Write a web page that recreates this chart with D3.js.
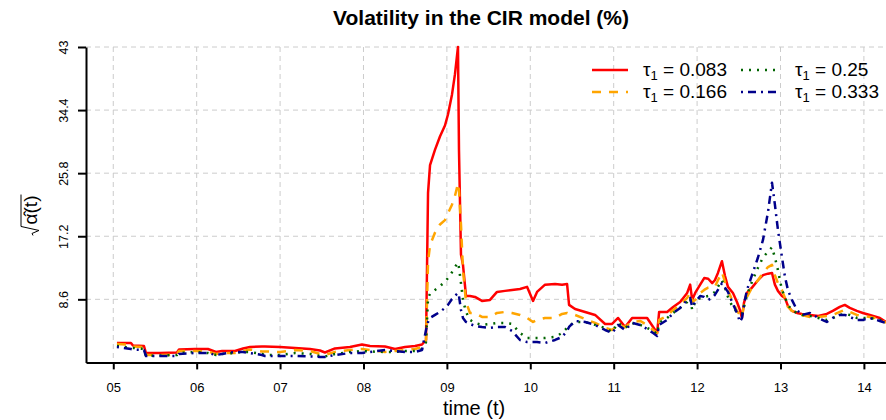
<!DOCTYPE html>
<html>
<head>
<meta charset="utf-8">
<script src="https://cdn.jsdelivr.net/npm/d3@7"></script>
<style>
  body { margin: 0; background: #fff; }
  svg { font-family: "Liberation Sans", Arial, sans-serif; }
</style>
</head>
<body>
<svg id="chart" width="886" height="420"></svg>
<script>
// time in decimal years
const time = [
  2005.044, 2005.212, 2005.236, 2005.368, 2005.392, 2005.560, 2005.764, 2005.788, 2005.980, 2006.135,
  2006.232, 2006.304, 2006.460, 2006.556, 2006.639, 2006.783, 2006.819, 2006.999, 2007.179, 2007.359,
  2007.478, 2007.538, 2007.658, 2007.838, 2007.982, 2008.078, 2008.258, 2008.378, 2008.498, 2008.618,
  2008.702, 2008.750, 2008.774, 2008.798, 2008.858, 2008.917, 2008.977, 2009.013, 2009.061, 2009.097,
  2009.133, 2009.145, 2009.169, 2009.193, 2009.229, 2009.277, 2009.337, 2009.421, 2009.517, 2009.601,
  2009.697, 2009.781, 2009.877, 2009.961, 2010.033, 2010.081, 2010.177, 2010.297, 2010.381, 2010.441,
  2010.465, 2010.537, 2010.657, 2010.777, 2010.897, 2010.981, 2011.053, 2011.137, 2011.221, 2011.317,
  2011.401, 2011.473, 2011.521, 2011.545, 2011.641, 2011.713, 2011.797, 2011.881, 2011.917, 2011.941,
  2011.977, 2012.037, 2012.085, 2012.133, 2012.181, 2012.213, 2012.250, 2012.298, 2012.334, 2012.370,
  2012.430, 2012.478, 2012.514, 2012.538, 2012.562, 2012.598, 2012.658, 2012.730, 2012.790, 2012.850,
  2012.898, 2012.933, 2012.969, 2013.017, 2013.053, 2013.089, 2013.137, 2013.197, 2013.257, 2013.353,
  2013.453, 2013.555, 2013.627, 2013.711, 2013.771, 2013.831, 2013.915, 2013.987, 2014.071, 2014.191,
  2014.263
];

const tau083 = [
  2.65, 2.65, 2.31, 2.24, 1.28, 1.28, 1.35, 1.76, 1.83, 1.83,
  1.42, 1.56, 1.56, 1.90, 2.10, 2.17, 2.17, 2.10, 1.97, 1.83,
  1.62, 1.35, 1.90, 2.10, 2.44, 2.24, 2.17, 1.83, 2.10, 2.24,
  2.44, 3.06, 23.1, 26.9, 29.0, 30.8, 32.3, 33.8, 36.5, 39.3,
  43.0, 29.0, 14.7, 13.3, 9.06, 9.06, 8.93, 8.38, 8.52, 9.61,
  9.75, 9.88, 10.0, 10.3, 8.38, 9.61, 10.6, 10.7, 10.6, 10.7,
  7.84, 7.29, 6.88, 6.47, 5.24, 5.24, 6.06, 4.83, 6.06, 6.06,
  6.06, 4.83, 4.01, 6.88, 6.88, 7.56, 8.24, 9.47, 10.6, 8.52,
  9.47, 10.6, 11.5, 11.4, 10.8, 11.2, 12.2, 13.8, 11.8, 10.3,
  9.47, 8.24, 7.15, 6.06, 8.11, 9.47, 10.2, 11.2, 11.9, 12.1,
  12.2, 10.6, 9.75, 9.06, 8.79, 7.70, 7.02, 6.74, 6.61, 6.47,
  6.33, 6.61, 7.02, 7.56, 7.84, 7.43, 7.02, 6.74, 6.47, 6.06,
  5.51
];

const tau166 = [
  2.51, 2.38, 2.17, 2.10, 1.01, 1.01, 1.08, 1.56, 1.56, 1.49,
  1.15, 1.28, 1.28, 1.56, 1.76, 1.49, 1.49, 1.42, 1.69, 1.56,
  1.15, 1.01, 1.42, 1.69, 1.83, 1.69, 1.42, 1.56, 1.69, 1.83,
  2.10, 3.06, 13.7, 16.0, 17.7, 18.8, 19.4, 20.3, 21.5, 22.7,
  24.4, 23.5, 18.8, 12.6, 8.24, 6.74, 6.74, 6.20, 6.20, 6.74,
  6.88, 6.74, 6.47, 6.06, 5.51, 5.79, 6.06, 6.06, 6.61, 6.74,
  6.61, 6.47, 5.92, 5.38, 4.70, 4.42, 5.11, 4.83, 5.51, 5.65,
  5.11, 4.42, 4.01, 5.79, 6.33, 7.15, 7.84, 8.79, 9.47, 8.24,
  8.52, 9.47, 9.88, 10.2, 10.3, 10.3, 11.2, 12.3, 11.0, 9.88,
  8.24, 7.02, 6.47, 6.20, 7.84, 8.93, 10.2, 11.2, 12.2, 13.0,
  13.3, 11.9, 10.8, 9.88, 8.79, 7.56, 7.02, 6.74, 6.47, 6.20,
  6.20, 6.33, 6.47, 6.88, 7.15, 6.88, 6.47, 6.33, 6.20, 5.92,
  5.38
];

const tau250 = [
  2.24, 1.97, 1.97, 1.83, 0.87, 0.94, 1.01, 1.28, 1.42, 1.28,
  1.01, 1.15, 1.28, 1.42, 1.42, 1.15, 1.01, 1.01, 1.28, 1.15,
  0.87, 0.81, 1.15, 1.42, 1.56, 1.49, 1.42, 1.42, 1.56, 1.56,
  1.83, 2.78, 8.79, 9.34, 9.88, 10.4, 11.0, 11.5, 12.3, 13.0,
  13.6, 12.9, 10.8, 8.52, 6.88, 5.79, 5.38, 5.11, 5.24, 5.38,
  5.38, 5.24, 4.01, 3.33, 3.33, 3.33, 3.33, 3.47, 4.01, 4.70,
  4.97, 5.51, 5.51, 5.11, 4.70, 4.15, 5.38, 4.70, 5.38, 5.11,
  4.70, 4.29, 3.88, 5.38, 6.06, 6.74, 7.43, 8.24, 8.79, 7.15,
  8.24, 8.79, 8.93, 9.06, 9.34, 9.61, 10.3, 11.2, 10.2, 8.93,
  7.43, 6.88, 6.74, 6.61, 7.56, 9.20, 11.0, 12.9, 14.3, 15.1,
  15.7, 14.3, 12.6, 9.88, 8.93, 7.84, 7.15, 6.74, 6.47, 6.33,
  6.06, 5.79, 6.06, 6.47, 6.61, 6.47, 6.06, 6.06, 6.06, 5.79,
  5.38
];

const tau333 = [
  2.10, 1.83, 1.76, 1.69, 0.87, 0.87, 0.87, 1.15, 1.28, 1.28,
  1.01, 1.15, 1.42, 1.42, 1.28, 1.01, 0.87, 0.87, 0.87, 0.81,
  0.74, 0.74, 1.01, 1.28, 1.28, 1.42, 1.69, 1.56, 1.42, 1.42,
  1.69, 4.42, 5.51, 6.06, 6.47, 6.88, 7.43, 7.84, 8.65, 9.06,
  9.47, 9.06, 7.15, 6.06, 5.51, 5.24, 4.97, 4.83, 4.70, 4.83,
  4.83, 4.29, 3.06, 2.78, 2.78, 2.78, 2.65, 3.06, 3.47, 4.29,
  4.83, 5.65, 5.51, 5.11, 4.42, 4.01, 5.11, 4.42, 5.38, 5.11,
  4.56, 4.01, 3.60, 5.11, 5.79, 6.74, 7.43, 8.52, 8.79, 7.56,
  8.24, 9.06, 8.93, 8.52, 8.79, 9.20, 9.88, 10.8, 10.2, 9.61,
  7.97, 6.74, 5.51, 6.06, 7.84, 9.88, 11.9, 14.3, 16.7, 20.5,
  24.5, 21.5, 18.1, 14.4, 11.7, 9.88, 8.52, 7.15, 6.47, 6.74,
  6.06, 5.51, 6.06, 6.47, 6.47, 6.20, 5.79, 5.79, 6.06, 5.65,
  5.38
];

const yearTicks = d3.range(2005, 2015);
const yTicks = [8.6, 17.2, 25.8, 34.4, 43];
const seriesLabels = ["0.083", "0.166", "0.25", "0.333"];

const series = [
  { label: seriesLabels[0], values: tau083, color: "#FF0000", dash: null },
  { label: seriesLabels[1], values: tau166, color: "#FFA500", dash: "9,8" },
  { label: seriesLabels[2], values: tau250, color: "#006400", dash: "2,6" },
  { label: seriesLabels[3], values: tau333, color: "#00008B", dash: "2,5,8,5" }
];

const svg = d3.select("#chart");

const x = d3.scaleLinear().domain([2004.673, 2014.265]).range([86, 886]);
const y = d3.scaleLinear().domain([0, 43]).range([362.4, 47]);

// grid
const grid = svg.append("g");
grid.selectAll(".vg").data(yearTicks).enter().append("line")
    .attr("x1", d => x(d)).attr("x2", d => x(d))
    .attr("y1", y(43)).attr("y2", y(0))
    .attr("stroke", "#CCCCCC").attr("stroke-width", 1).attr("stroke-dasharray", "5,4");
grid.selectAll(".hg").data(yTicks).enter().append("line")
    .attr("x1", 86).attr("x2", 886)
    .attr("y1", d => y(d)).attr("y2", d => y(d))
    .attr("stroke", "#CCCCCC").attr("stroke-width", 1).attr("stroke-dasharray", "5,4");

// lines
const line = d3.line()
    .x((d, i) => x(time[i]))
    .y(d => y(d));

series.forEach(s => {
    svg.append("path")
        .datum(s.values)
        .attr("d", line)
        .attr("fill", "none")
        .attr("stroke", s.color)
        .attr("stroke-width", 2.5)
        .attr("stroke-linejoin", "round")
        .attr("stroke-dasharray", s.dash);
});

// axes
const xAxis = svg.append("g")
    .attr("transform", `translate(0,${y(0)})`)
    .call(d3.axisBottom(x).tickValues(yearTicks).tickSize(7).tickSizeOuter(0)
        .tickFormat(d => d3.format("02d")(d % 100)));
xAxis.selectAll("path, line").attr("stroke", "#000").attr("stroke-width", 2);
xAxis.selectAll("text").attr("font-size", 13).attr("fill", "#000")
    .attr("font-family", "Liberation Sans, Arial, sans-serif").attr("dy", "1.5em");

const yAxis = svg.append("g")
    .attr("transform", "translate(86,0)")
    .call(d3.axisLeft(y).tickValues(yTicks).tickSize(8).tickSizeOuter(0)
        .tickFormat(d => String(d)));
yAxis.selectAll("path, line").attr("stroke", "#000").attr("stroke-width", 2);
yAxis.selectAll("text")
    .attr("font-size", 12.5).attr("fill", "#000")
    .attr("font-family", "Liberation Sans, Arial, sans-serif")
    .attr("text-anchor", "middle")
    .attr("x", 0).attr("dy", 0)
    .attr("transform", "translate(-18,0) rotate(-90)");

// title
svg.append("text")
    .attr("x", 481).attr("y", 25)
    .attr("text-anchor", "middle")
    .attr("font-size", 21).attr("font-weight", "bold")
    .text("Volatility in the CIR model (%)");

// x label
svg.append("text")
    .attr("x", 474).attr("y", 415)
    .attr("text-anchor", "middle")
    .attr("font-size", 20)
    .text("time (t)");

// y label: sqrt(alpha-hat(t)), radical drawn as a path
const ylab = svg.append("g").attr("transform", "translate(37,210) rotate(-90)");
const inner = ylab.append("text")
    .attr("text-anchor", "middle")
    .attr("font-size", 19)
    .text("\u03B1\u0302(t)");
const bb = inner.node().getBBox();
const radTop = bb.y + 1, radBot = bb.y + bb.height - 2;
ylab.append("path")
    .attr("d", `M${bb.x - 11},${radBot - 6} L${bb.x - 9},${radBot - 7} L${bb.x - 6},${radBot}
                L${bb.x - 2},${radTop} L${bb.x + bb.width + 1},${radTop}`)
    .attr("fill", "none")
    .attr("stroke", "#000").attr("stroke-width", 1);

// legend
const legendPos = [
  { lx: 592, tx: 643, ty: 70 },
  { lx: 592, tx: 643, ty: 92 },
  { lx: 741, tx: 795, ty: 70 },
  { lx: 741, tx: 795, ty: 92 }
];
series.forEach((s, i) => {
    const p = legendPos[i];
    svg.append("line")
        .attr("x1", p.lx).attr("x2", p.lx + 36)
        .attr("y1", p.ty).attr("y2", p.ty)
        .attr("stroke", s.color).attr("stroke-width", 2.5)
        .attr("stroke-dasharray", s.dash);
    const t = svg.append("text")
        .attr("x", p.tx).attr("y", p.ty + 6)
        .attr("font-size", 19);
    t.append("tspan").text("\u03C4");
    t.append("tspan").attr("font-size", 13).attr("dy", 4).text("1");
    t.append("tspan").attr("dy", -4).text(" = " + s.label);
});
</script>
</body>
</html>
